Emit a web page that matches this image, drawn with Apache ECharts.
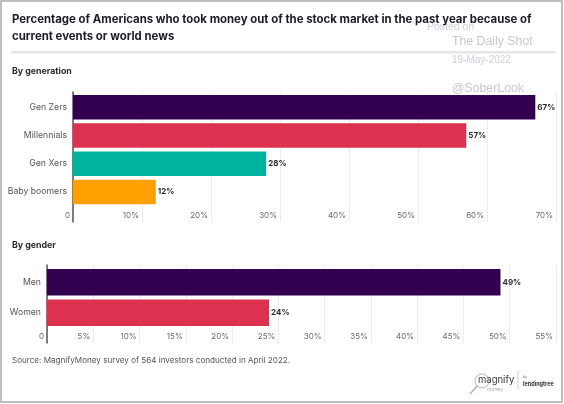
<!DOCTYPE html>
<html>
<head>
<meta charset="utf-8">
<script src="https://cdn.jsdelivr.net/npm/echarts@6/dist/echarts.min.js"></script>
<style>
html,body{margin:0;padding:0;background:#fff;}
#chart{width:564px;height:404px;}
</style>
</head>
<body>
<div id="chart"></div>
<script>
// ---- Data ----
const genCategories = ['Gen Zers', 'Millennials', 'Gen Xers', 'Baby boomers'];
const genValues = [67, 57, 28, 12];
const genderCategories = ['Men', 'Women'];
const genderValues = [49, 24];
const genTicks = { min: 0, max: 70, interval: 10 };
const genderTicks = { min: 0, max: 55, interval: 5 };
const titleText = 'Percentage of Americans who took money out of the stock market in the past year because of\ncurrent events or world news';
const sourceText = 'Source: MagnifyMoney survey of 564 investors conducted in April 2022.';

// ---- Styles ----
const genColors = ['#32004f', '#dc3250', '#00b39f', '#ff9f00'];
const genderColors = ['#32004f', '#dc3250'];
const FONT = 'Inter, "Noto Sans", sans-serif';

const chart = echarts.init(document.getElementById('chart'), null, { renderer: 'canvas' });

function pct(v) { return v === 0 ? '0' : v + '%'; }

function bgAxisX(gi, ticks) {
  return {
    gridIndex: gi, type: 'value', min: ticks.min, max: ticks.max, interval: ticks.interval,
    axisLine: { show: false }, axisTick: { show: false },
    splitLine: { show: true, lineStyle: { color: '#ececec', width: 1 } },
    axisLabel: {
      inside: true, margin: 2, align: 'right', padding: [0, 3, 0, 0],
      color: '#6b6b6b', fontSize: 8, fontFamily: FONT, formatter: pct,
      showMinLabel: true, showMaxLabel: true
    }
  };
}
function barAxisX(gi, ticks) {
  return { gridIndex: gi, type: 'value', min: ticks.min, max: ticks.max, interval: ticks.interval, show: false };
}
function bgAxisY(gi) {
  return {
    gridIndex: gi, type: 'value', min: 0, max: 1,
    axisLine: { show: true, lineStyle: { color: '#555', width: 1.5 } },
    axisTick: { show: false }, axisLabel: { show: false }, splitLine: { show: false }
  };
}
function catAxisY(gi, cats) {
  return {
    gridIndex: gi, type: 'category', data: cats, inverse: true,
    axisLine: { show: false }, axisTick: { show: false }, splitLine: { show: false },
    axisLabel: { color: '#555', fontSize: 8.7, fontFamily: FONT, margin: 6 }
  };
}
function barSeries(xi, yi, vals, colors, width) {
  return {
    type: 'bar', xAxisIndex: xi, yAxisIndex: yi, barWidth: width,
    data: vals.map((v, i) => ({ value: v, itemStyle: { color: colors[i] } })),
    label: {
      show: true, position: 'right', distance: 2, formatter: '{c}%',
      color: '#2a2a2a', fontSize: 8, fontWeight: 'bold', fontFamily: FONT
    },
    animation: false
  };
}

const option = {
  animation: false,
  backgroundColor: '#fff',
  title: {
    text: titleText, left: 12, top: 11, padding: 0,
    textStyle: { fontFamily: FONT, fontSize: 11.4, fontWeight: 'bold', color: '#1c1c28', lineHeight: 17 }
  },
  grid: [
    { left: 73, right: 8, top: 93, height: 113 },
    { left: 73, right: 8, top: 92, height: 130 },
    { left: 47, right: 8, top: 267, height: 61 },
    { left: 47, right: 8, top: 265, height: 78 }
  ],
  xAxis: [
    barAxisX(0, genTicks), bgAxisX(1, genTicks),
    barAxisX(2, genderTicks), bgAxisX(3, genderTicks)
  ],
  yAxis: [
    catAxisY(0, genCategories), bgAxisY(1),
    catAxisY(2, genderCategories), bgAxisY(3)
  ],
  series: [
    barSeries(0, 0, genValues, genColors, 24.5),
    barSeries(2, 2, genderValues, genderColors, 26.5)
  ],
  graphic: [
    { type: 'rect', shape: { x: 1, y: 1, width: 561, height: 401 }, style: { fill: 'none', stroke: '#bdbdbd', lineWidth: 2 }, silent: true },
    { type: 'rect', shape: { x: 11, y: 51, width: 545, height: 2.5 }, style: { fill: '#e6e6e6' }, silent: true },
    { type: 'text', left: 12, top: 67, style: { text: 'By generation', fontFamily: FONT, fontSize: 8.8, fontWeight: 'bold', fill: '#2a2a2a' } },
    { type: 'text', left: 12, top: 241, style: { text: 'By gender', fontFamily: FONT, fontSize: 8.8, fontWeight: 'bold', fill: '#2a2a2a' } },
    { type: 'text', left: 12, top: 357, style: { text: sourceText, fontFamily: FONT, fontSize: 8.1, fill: '#555' } },
    // watermark
    { type: 'text', x: 427, y: 22, style: { text: 'Posted on', fontFamily: '"Liberation Sans", Arial', fontSize: 10.5, fill: '#cfcfd8' } },
    { type: 'text', x: 452, y: 36, style: { text: 'The Daily Shot', fontFamily: '"Liberation Sans", Arial', fontSize: 12.3, fill: '#c8c8d2' } },
    { type: 'text', x: 452, y: 55, style: { text: '19-May-2022', fontFamily: '"Liberation Sans", Arial', fontSize: 10, fill: '#cfcfd8' } },
    { type: 'text', x: 452, y: 83, style: { text: '@SoberLook', fontFamily: '"Liberation Sans", Arial', fontSize: 12.3, fill: '#c8c8d2' } },
    // logo
    { type: 'circle', shape: { cx: 482, cy: 381, r: 7 }, style: { fill: 'none', stroke: '#b5b5b5', lineWidth: 1 } },
    { type: 'line', shape: { x1: 477, y1: 386, x2: 470, y2: 394 }, style: { stroke: '#b5b5b5', lineWidth: 1.5 } },
    { type: 'text', x: 478, y: 375, style: { text: 'magnify', fontFamily: FONT, fontSize: 9.5, fill: '#3a3a3a' } },
    { type: 'text', x: 487, y: 387, style: { text: 'money', fontFamily: FONT, fontSize: 5, fill: '#aaa' } },
    { type: 'line', shape: { x1: 518, y1: 371, x2: 518, y2: 389 }, style: { stroke: '#cccccc', lineWidth: 1 } },
    { type: 'text', x: 523, y: 375, style: { text: 'by', fontFamily: FONT, fontSize: 3.5, fill: '#666' } },
    { type: 'text', x: 523, y: 381, style: { text: 'lendingtree', fontFamily: FONT, fontSize: 5.5, fontWeight: 'bold', fill: '#333' } }
  ]
};
chart.setOption(option);
</script>
</body>
</html>
